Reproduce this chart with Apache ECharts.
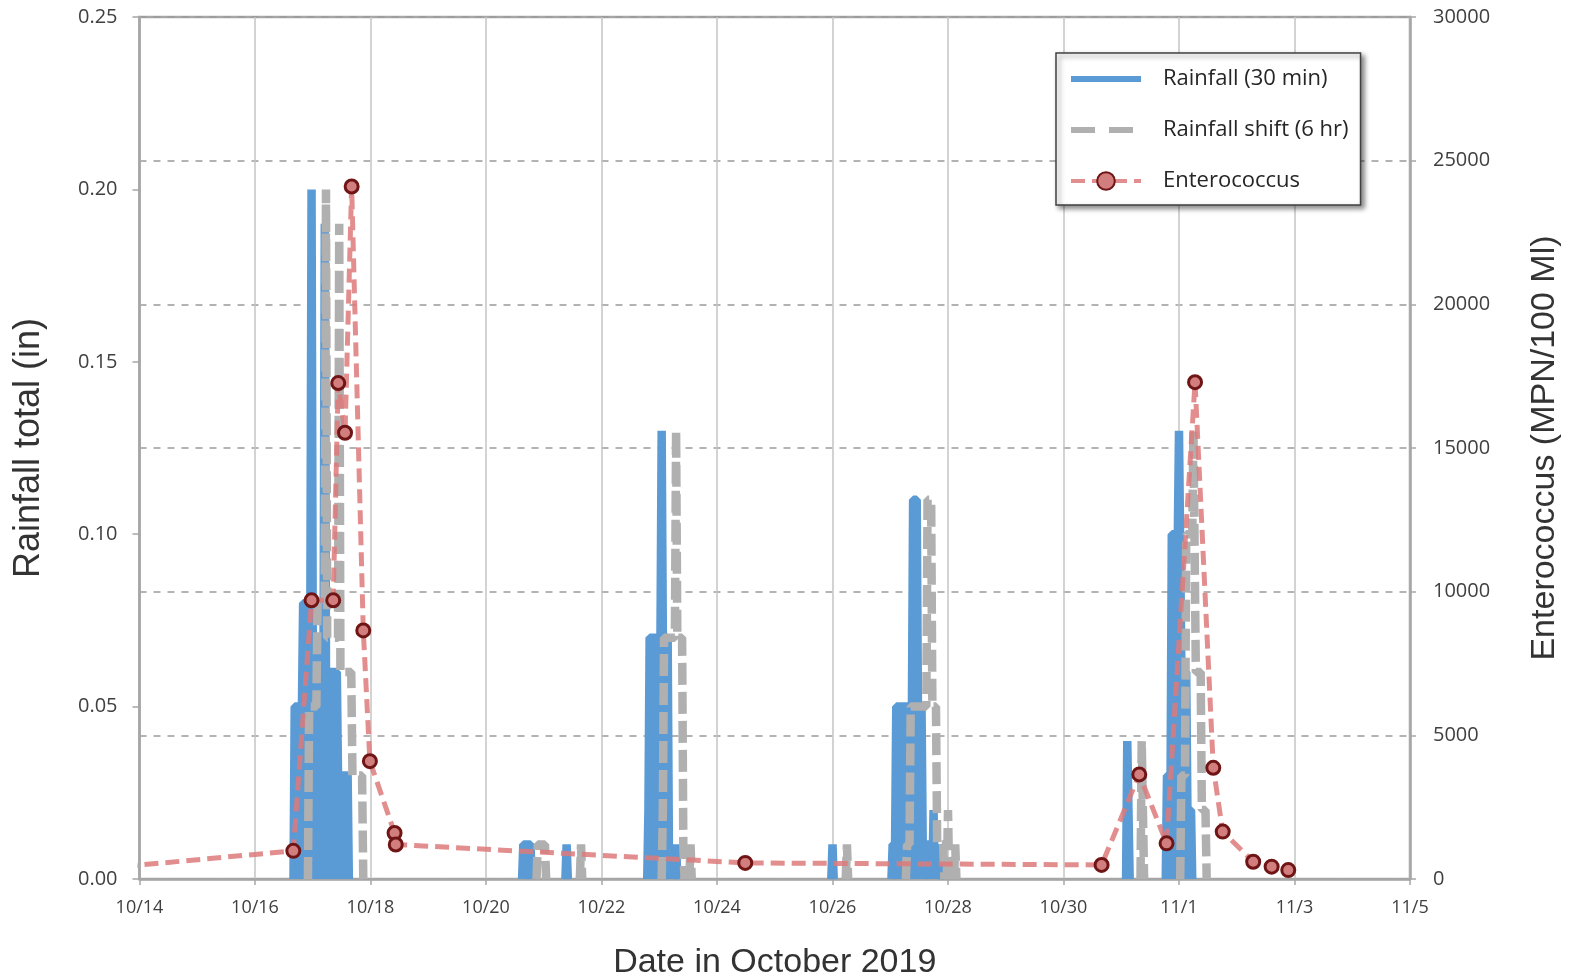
<!DOCTYPE html>
<html>
<head>
<meta charset="utf-8">
<title>Rainfall and Enterococcus, October 2019</title>
<script src="https://cdn.jsdelivr.net/npm/echarts@6/dist/echarts.min.js"></script>
<style>
  html, body { margin: 0; padding: 0; background: #fff; }
  #chart { width: 1573px; height: 976px; }
</style>
</head>
<body>
<div id="chart"></div>
<script>
// 30 min rainfall totals (in), one list per storm, each starts and ends at 0
var stormOct16 = [
  ['10-16 16:00', 0], ['10-16 16:30', 0.05], ['10-16 19:30', 0.05], ['10-16 20:00', 0.08],
  ['10-16 23:00', 0.08], ['10-16 23:30', 0.20], ['10-17 00:00', 0.07], ['10-17 04:30', 0.07],
  ['10-17 05:00', 0.19], ['10-17 05:30', 0.06], ['10-17 10:00', 0.06], ['10-17 10:30', 0.03],
  ['10-17 14:30', 0.03], ['10-17 15:00', 0]
];
var stormOct20 = [['10-20 15:00', 0], ['10-20 15:30', 0.01], ['10-20 18:30', 0.01], ['10-20 19:00', 0]];
var stormOct21 = [['10-21 09:00', 0], ['10-21 09:30', 0.01], ['10-21 10:00', 0]];
var stormOct23 = [
  ['10-22 19:00', 0], ['10-22 19:30', 0.02], ['10-22 20:00', 0.07], ['10-23 00:30', 0.07],
  ['10-23 01:00', 0.13], ['10-23 01:30', 0.07], ['10-23 03:30', 0.07], ['10-23 04:00', 0.01],
  ['10-23 04:30', 0]
];
var stormOct23b = [['10-23 06:30', 0], ['10-23 07:00', 0.01], ['10-23 07:30', 0]];
var stormOct26 = [['10-25 23:30', 0], ['10-26 00:00', 0.01], ['10-26 00:30', 0]];
var stormOct27 = [
  ['10-27 00:30', 0], ['10-27 01:00', 0.01], ['10-27 02:00', 0.01], ['10-27 02:30', 0.05],
  ['10-27 09:00', 0.05], ['10-27 09:30', 0.11], ['10-27 11:00', 0.11], ['10-27 11:30', 0.05],
  ['10-27 13:00', 0.05], ['10-27 13:30', 0.01], ['10-27 16:00', 0.01], ['10-27 16:30', 0]
];
var stormOct27b = [['10-27 17:30', 0], ['10-27 18:00', 0.02], ['10-27 18:30', 0]];
var stormOct27c = [['10-27 20:30', 0], ['10-27 21:00', 0.01], ['10-27 21:30', 0]];
var stormOct31 = [['10-31 02:00', 0], ['10-31 02:30', 0.04], ['10-31 03:00', 0.04], ['10-31 03:30', 0]];
var stormNov1 = [
  ['10-31 18:30', 0], ['10-31 19:00', 0.03], ['10-31 20:30', 0.03], ['10-31 21:00', 0.10],
  ['10-31 23:30', 0.10], ['11-01 00:00', 0.13], ['11-01 00:30', 0.13], ['11-01 01:00', 0.06],
  ['11-01 03:00', 0.06], ['11-01 03:30', 0.02], ['11-01 05:00', 0.02], ['11-01 05:30', 0]
];
var storms = [stormOct16, stormOct20, stormOct21, stormOct23, stormOct23b, stormOct26,
  stormOct27, stormOct27b, stormOct27c, stormOct31, stormNov1];
var shiftHours = 6;

// Enterococcus samples (MPN/100 ml); first one is before the plotted range
var enterococcus = [
  ['10-13 00:00', 300], ['10-16 15:55', 980], ['10-16 23:30', 9700], ['10-17 08:30', 9700],
  ['10-17 10:35', 17260], ['10-17 13:25', 15530], ['10-17 16:10', 24100], ['10-17 21:00', 8650],
  ['10-17 23:45', 4100], ['10-18 10:00', 1600], ['10-18 10:30', 1200], ['10-24 11:45', 560],
  ['10-30 15:50', 490], ['10-31 07:30', 3640], ['10-31 18:50', 1240], ['11-01 06:40', 17290],
  ['11-01 14:15', 3870], ['11-01 18:10', 1650], ['11-02 06:50', 600], ['11-02 14:30', 430],
  ['11-02 21:25', 310]
];

var dateTicks = ['10/14', '10/16', '10/18', '10/20', '10/22', '10/24', '10/26', '10/28',
  '10/30', '11/1', '11/3', '11/5'];

// days since 10/14 00:00
function dayOf(s) {
  var m = +s.slice(0, 2), d = +s.slice(3, 5), h = +s.slice(6, 8), mi = +s.slice(9, 11);
  return (Date.UTC(2019, m - 1, d, h, mi) - Date.UTC(2019, 9, 14)) / 864e5;
}
function stormLine(shift) {
  var out = [];
  storms.forEach(function (storm) {
    storm.forEach(function (p) { out.push([dayOf(p[0]) + shift, p[1]]); });
    out.push([out[out.length - 1][0], null]);
  });
  return out;
}

var gray = '#a6a6a6';
var blue = '#5b9bd5';
var shiftGray = '#b0b0b0';
var yLabelFont = { fontFamily: 'Open Sans', fontSize: 20, color: '#404040' };
var xLabelFont = { fontFamily: 'Open Sans', fontSize: 18, color: '#404040' };
var nameFont = { fontFamily: 'Liberation Sans', fontSize: 34, color: '#333' };

var chart = echarts.init(document.getElementById('chart'));
chart.setOption({
  animation: false,
  backgroundColor: '#fff',
  grid: {
    left: 139.5, right: 163, top: 17, bottom: 97, outerBoundsMode: 'none', containLabel: false,
    show: true, borderColor: gray, borderWidth: 2.5
  },
  legend: {
    orient: 'vertical', left: 1056, top: 53,
    padding: [15, 12, 13, 12], itemGap: 29, itemWidth: 70, itemHeight: 22,
    backgroundColor: '#fff', borderColor: '#404040', borderWidth: 1.5, borderRadius: 0,
    shadowBlur: 5, shadowColor: 'rgba(0,0,0,0.45)', shadowOffsetX: 3, shadowOffsetY: 3,
    textStyle: { fontFamily: 'Open Sans', fontSize: 22, color: '#262626', padding: [0, 0, 0, 17] },
    data: [
      { name: 'Rainfall (30 min)', itemStyle: { opacity: 0 }, lineStyle: { width: 6 } },
      { name: 'Rainfall shift (6 hr)', itemStyle: { opacity: 0 }, lineStyle: { width: 6, type: [24, 14] } },
      { name: 'Enterococcus', lineStyle: { width: 4 } }
    ]
  },
  xAxis: {
    type: 'value', min: 0, max: 22, interval: 2,
    name: 'Date in October 2019', nameLocation: 'middle', nameGap: 67, nameTextStyle: nameFont,
    axisLine: { lineStyle: { color: gray, width: 2.5 } },
    axisTick: { length: 6, lineStyle: { color: gray, width: 1.5 } },
    axisLabel: Object.assign({ margin: 20, formatter: function (v) { return dateTicks[Math.round(v / 2)]; } }, xLabelFont),
    splitLine: { show: true, lineStyle: { color: '#c4c4c4', width: 1.5 } }
  },
  yAxis: [{
    type: 'value', min: 0, max: 0.25, interval: 0.05, position: 'left',
    name: 'Rainfall total (in)', nameLocation: 'middle', nameRotate: 90, nameGap: 92,
    nameTextStyle: Object.assign({}, nameFont, { fontSize: 36 }),
    axisLine: { show: true, lineStyle: { color: gray, width: 2.5 } },
    axisTick: { show: true, length: 7, lineStyle: { color: gray, width: 1.5 } },
    axisLabel: Object.assign({ margin: 22, formatter: function (v) { return v.toFixed(2); } }, yLabelFont),
    splitLine: { show: false }
  }, {
    type: 'value', min: 0, max: 30000, interval: 5000, position: 'right',
    name: 'Enterococcus (MPN/100 Ml)', nameLocation: 'middle', nameRotate: 90, nameGap: 118, nameTextStyle: nameFont,
    axisLine: { show: true, lineStyle: { color: gray, width: 2.5 } },
    axisTick: { show: true, length: 6, lineStyle: { color: gray, width: 1.5 } },
    axisLabel: Object.assign({ margin: 23, formatter: function (v) { return String(v); } }, yLabelFont),
    splitLine: { show: true, lineStyle: { color: '#9a9a9a', width: 1.5, type: [7, 7] } }
  }],
  series: [{
    name: 'Rainfall (30 min)', type: 'line', yAxisIndex: 0,
    data: stormLine(0), symbol: 'none', showSymbol: false, connectNulls: false,
    itemStyle: { color: blue },
    lineStyle: { color: blue, width: 8.5, join: 'bevel' },
    areaStyle: { color: blue, opacity: 1 }, z: 2
  }, {
    name: 'Rainfall shift (6 hr)', type: 'line', yAxisIndex: 0,
    data: stormLine(shiftHours / 24), symbol: 'none', showSymbol: false, connectNulls: false,
    itemStyle: { color: shiftGray },
    lineStyle: { color: shiftGray, width: 8.5, type: [22, 7], join: 'bevel' }, z: 3
  }, {
    name: 'Enterococcus', type: 'line', yAxisIndex: 1,
    data: enterococcus.map(function (p) { return [dayOf(p[0]), p[1]]; }),
    symbol: 'circle', symbolSize: 13,
    itemStyle: { color: '#d27e7e', borderColor: '#701515', borderWidth: 3 },
    lineStyle: { color: 'rgba(222,122,122,0.85)', width: 5, type: [14, 7] }, z: 4
  }]
});
</script>
</body>
</html>
